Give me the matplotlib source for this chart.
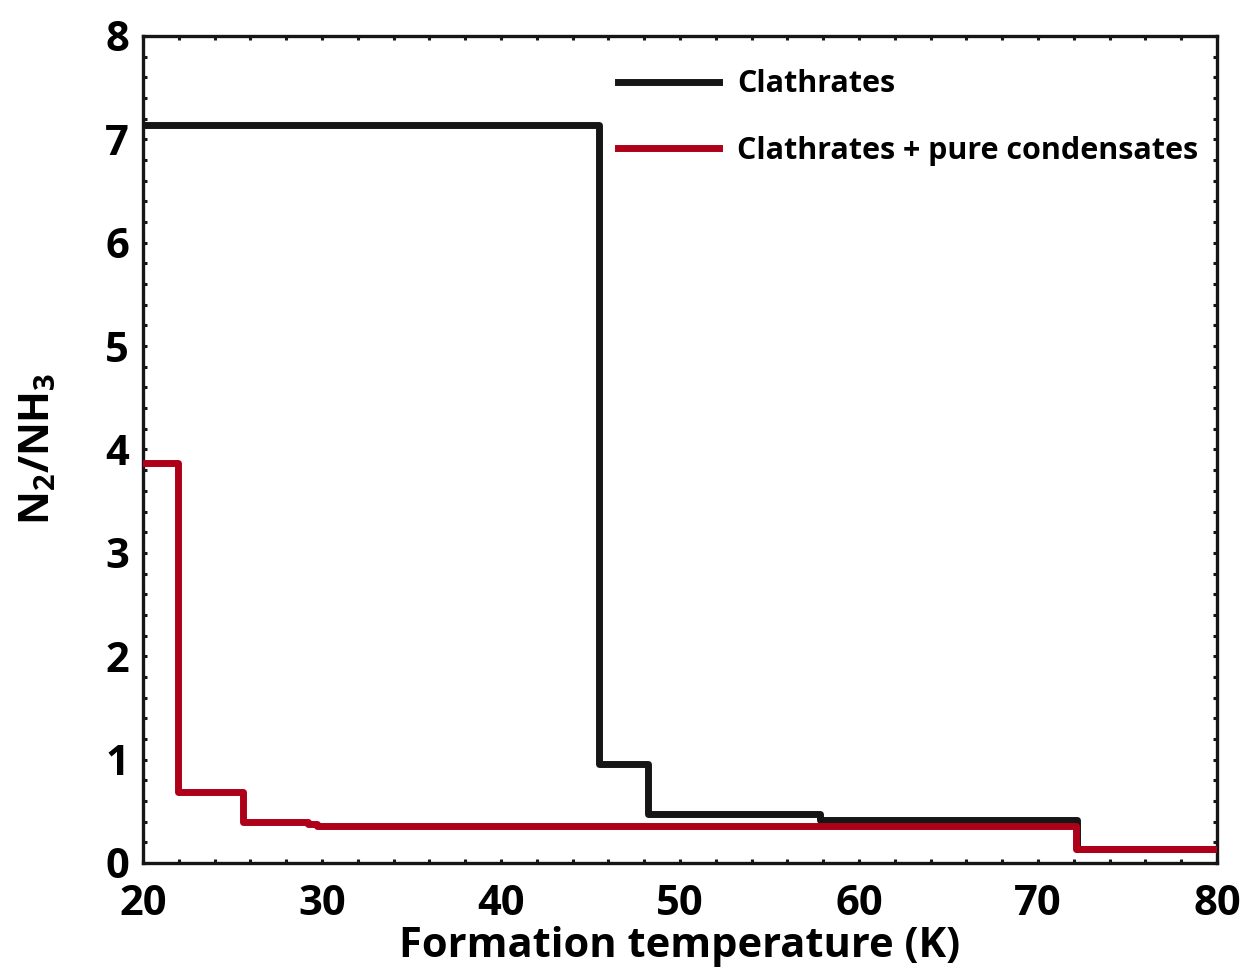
import numpy as np
import matplotlib
matplotlib.use("Agg")
import matplotlib.pyplot as plt
from matplotlib.ticker import MultipleLocator

# formation temperature (K) where each step starts, and N2/NH3 on that step
clath_T = [20, 45.5, 48.2, 57.8, 72.2, 80]
clath_ratio = [7.14, 0.96, 0.47, 0.42, 0.135, 0.135]

mixed_T = [20, 21.95, 25.6, 29.2, 29.7, 72.1, 80]
mixed_ratio = [3.87, 0.69, 0.40, 0.38, 0.36, 0.135, 0.135]

plt.rcParams['font.family'] = ['Open Sans', 'DejaVu Sans']
plt.rcParams['font.weight'] = 'bold'
plt.rcParams['axes.labelweight'] = 'bold'
plt.rcParams['mathtext.default'] = 'regular'

fig = plt.figure(figsize=(12.6, 9.8), dpi=100)
ax = fig.add_axes([0.1135, 0.1194, 0.8524, 0.8439])

ax.step(clath_T, clath_ratio, where='post', color='#161616', lw=5,
        label='Clathrates', zorder=3)
ax.step(mixed_T, mixed_ratio, where='post', color='#ae0018', lw=5,
        label='Clathrates + pure condensates', zorder=4)

ax.set_xlim(20, 80)
ax.set_ylim(0, 8)
ax.xaxis.set_major_locator(MultipleLocator(10))
ax.xaxis.set_minor_locator(MultipleLocator(2))
ax.yaxis.set_major_locator(MultipleLocator(1))
ax.yaxis.set_minor_locator(MultipleLocator(0.2))
ax.tick_params(which='both', direction='in', top=True, right=True,
               length=3, width=2.2, color='#161616')
ax.tick_params(axis='x', labelsize=30, pad=15)
ax.tick_params(axis='y', labelsize=30, pad=10)
for s in ax.spines.values():
    s.set_linewidth(2.4)
    s.set_color('#161616')

ax.set_xlabel('Formation temperature (K)', fontsize=30, labelpad=1)
ax.set_ylabel('N$_2$/NH$_3$', fontsize=30, labelpad=33)

ax.legend(loc='upper right', bbox_to_anchor=(1.008, 0.993),
          frameon=False, fontsize=22, handlelength=3.3, handletextpad=0.6,
          labelspacing=1.2)

fig.savefig('out.png', dpi=100)
